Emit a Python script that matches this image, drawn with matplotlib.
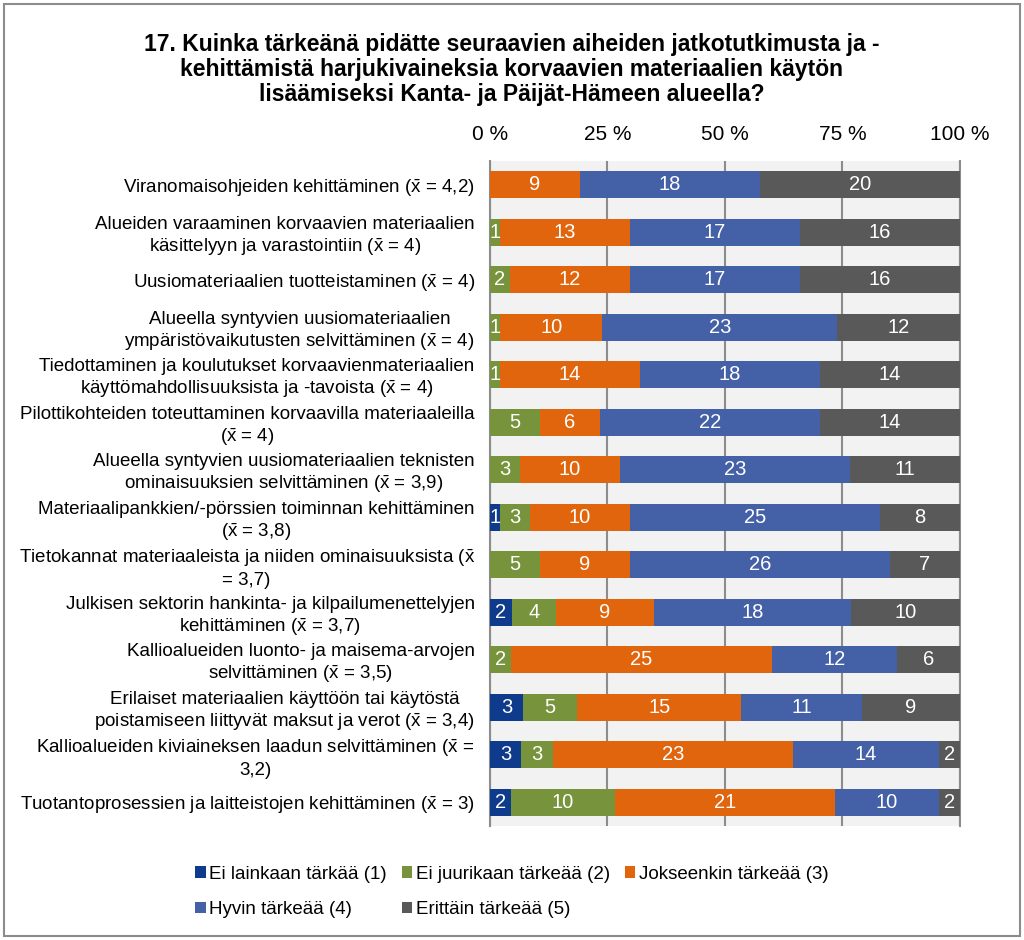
import numpy as np
import matplotlib.pyplot as plt
from matplotlib.patches import Rectangle

plt.rcParams['font.family'] = ['Liberation Sans', 'DejaVu Sans']
plt.rcParams['mathtext.fontset'] = 'custom'
plt.rcParams['mathtext.rm'] = 'Liberation Sans'
plt.rcParams['mathtext.it'] = 'Liberation Sans'

XB = r"$\bar{\mathrm{x}}$"

# Data (counts of answers per category, top to bottom)
categories = [
    f"Viranomaisohjeiden kehittäminen ({XB} = 4,2)",
    f"Alueiden varaaminen korvaavien materiaalien\nkäsittelyyn ja varastointiin ({XB} = 4)",
    f"Uusiomateriaalien tuotteistaminen ({XB} = 4)",
    f"Alueella syntyvien uusiomateriaalien\nympäristövaikutusten selvittäminen ({XB} = 4)",
    f"Tiedottaminen ja koulutukset korvaavienmateriaalien\nkäyttömahdollisuuksista ja -tavoista ({XB} = 4)",
    f"Pilottikohteiden toteuttaminen korvaavilla materiaaleilla\n({XB} = 4)",
    f"Alueella syntyvien uusiomateriaalien teknisten\nominaisuuksien selvittäminen ({XB} = 3,9)",
    f"Materiaalipankkien/-pörssien toiminnan kehittäminen\n({XB} = 3,8)",
    f"Tietokannat materiaaleista ja niiden ominaisuuksista ({XB}\n= 3,7)",
    f"Julkisen sektorin hankinta- ja kilpailumenettelyjen\nkehittäminen ({XB} = 3,7)",
    f"Kallioalueiden luonto- ja maisema-arvojen\nselvittäminen ({XB} = 3,5)",
    f"Erilaiset materiaalien käyttöön tai käytöstä\npoistamiseen liittyvät maksut ja verot ({XB} = 3,4)",
    f"Kallioalueiden kiviaineksen laadun selvittäminen ({XB} =\n3,2)",
    f"Tuotantoprosessien ja laitteistojen kehittäminen ({XB} = 3)",
]

series_names = [
    "Ei lainkaan tärkää (1)",
    "Ei juurikaan tärkeää (2)",
    "Jokseenkin tärkeää (3)",
    "Hyvin tärkeää (4)",
    "Erittäin tärkeää (5)",
]

ei_lainkaan = [0, 0, 0, 0, 0, 0, 0, 1, 0, 2, 0, 3, 3, 2]
ei_juurikaan = [0, 1, 2, 1, 1, 5, 3, 3, 5, 4, 2, 5, 3, 10]
jokseenkin = [9, 13, 12, 10, 14, 6, 10, 10, 9, 9, 25, 15, 23, 21]
hyvin = [18, 17, 17, 23, 18, 22, 23, 25, 26, 18, 12, 11, 14, 10]
erittain = [20, 16, 16, 12, 14, 14, 11, 8, 7, 10, 6, 9, 2, 2]

colors = ["#0e3b8c", "#77933c", "#e0650c", "#4461a8", "#595959"]

counts = np.array([ei_lainkaan, ei_juurikaan, jokseenkin, hyvin, erittain], dtype=float)
shares = counts / counts.sum(axis=0) * 100

fig = plt.figure(figsize=(10.24, 9.4), dpi=100)
ax = fig.add_axes([0.4785, 0.1213, 0.459, 0.7074])
ax.set_facecolor("#f2f2f2")

y = np.arange(len(categories))
left = np.zeros(len(categories))
bars = []
for i, name in enumerate(series_names):
    b = ax.barh(y, shares[i], left=left, height=0.57, color=colors[i],
                label=name, zorder=3)
    bars.append(b)
    for j in range(len(categories)):
        if counts[i, j] > 0:
            ax.text(left[j] + shares[i, j] / 2, y[j], f"{int(counts[i, j])}",
                    ha="center", va="center", color="white", fontsize=14.5,
                    zorder=4)
    left += shares[i]

ax.set_ylim(len(categories) - 0.5, -0.5)
ax.set_xlim(0, 100)
ax.set_yticks(y)
ax.set_yticklabels(categories, fontsize=13.5, multialignment="center")
ax.tick_params(axis="y", length=0, pad=11)

ax.xaxis.tick_top()
ax.set_xticks([0, 25, 50, 75, 100])
ax.set_xticklabels(["0 %", "25 %", "50 %", "75 %", "100 %"], fontsize=15)
ax.tick_params(axis="x", length=0, pad=12)
ax.grid(axis="x", color="#8c8c8c", linewidth=1.5, zorder=1)

for side in ["top", "bottom"]:
    ax.spines[side].set_visible(False)
for side in ["left", "right"]:
    ax.spines[side].set_color("#8c8c8c")
    ax.spines[side].set_linewidth(1.5)

fig.suptitle("17. Kuinka tärkeänä pidätte seuraavien aiheiden jatkotutkimusta ja -\n"
             "kehittämistä harjukivaineksia korvaavien materiaalien käytön\n"
             "lisäämiseksi Kanta- ja Päijät-Hämeen alueella?",
             x=0.5, y=0.965, fontsize=16.5, fontweight="bold", linespacing=1.12)

# legend order so rows read 1,2,3 / 4,5
order = [0, 3, 1, 4, 2]
leg = fig.legend([bars[k] for k in order], [series_names[k] for k in order],
                 loc="center", bbox_to_anchor=(0.5, 0.051), ncol=3,
                 frameon=False, fontsize=13.5, handlelength=0.55,
                 handleheight=0.55, handletextpad=0.2, columnspacing=0.8,
                 labelspacing=1.0)

fig.patches.append(Rectangle((0.004, 0.004), 0.992, 0.992, transform=fig.transFigure,
                             fill=False, edgecolor="#8c8c8c", linewidth=1.5))

fig.savefig("out.png", dpi=100)
